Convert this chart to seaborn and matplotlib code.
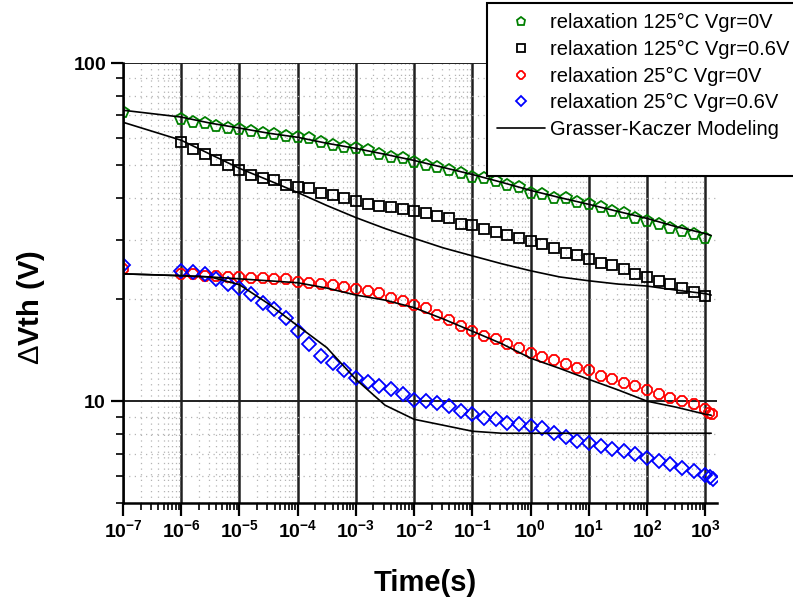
import numpy as np
import matplotlib
matplotlib.use('Agg')
import matplotlib.pyplot as plt
from matplotlib import ticker
from matplotlib.lines import Line2D
import seaborn as sns

sns.set_style('ticks', {'axes.edgecolor': 'black', 'xtick.color': 'black',
                        'ytick.color': 'black', 'text.color': 'black',
                        'axes.labelcolor': 'black'})
plt.rcParams['font.family'] = ['Liberation Sans', 'DejaVu Sans']
plt.rcParams['mathtext.fontset'] = 'custom'
plt.rcParams['mathtext.rm'] = 'Liberation Sans'
plt.rcParams['mathtext.bf'] = 'Liberation Sans:bold'

# measured relaxation data (time as log10 exponent, dVth in V)
time_exp = [-7, -6.0, -5.8, -5.6, -5.4, -5.2, -5.0, -4.8, -4.6, -4.4, -4.2, -4.0,
            -3.8, -3.6, -3.4, -3.2, -3.0, -2.8, -2.6, -2.4, -2.2, -2.0, -1.8, -1.6,
            -1.4, -1.2, -1.0, -0.8, -0.6, -0.4, -0.2, 0.0, 0.2, 0.4, 0.6, 0.8, 1.0,
            1.2, 1.4, 1.6, 1.8, 2.0, 2.2, 2.4, 2.6, 2.8, 3.0]

green_125_0v = [71.6, 68.2, 66.8, 66.4, 65.0, 64.2, 63.7, 62.9, 62.0, 61.6, 60.7, 60.3,
                59.9, 58.3, 57.1, 56.3, 55.9, 55.2, 53.7, 52.6, 52.3, 50.8, 49.8, 49.1,
                48.1, 47.2, 45.9, 45.6, 44.7, 43.7, 42.9, 41.4, 41.1, 40.0, 39.8, 38.7,
                38.2, 37.4, 36.6, 35.9, 34.9, 34.2, 33.5, 32.6, 31.9, 31.3, 30.3]

# starts at 1e-6
black_125_06v = [58.3, 55.6, 53.7, 51.5, 49.8, 48.1, 46.8, 45.6, 45.0, 43.7, 42.9,
                 42.6, 41.4, 40.6, 39.8, 39.2, 38.4, 37.9, 37.4, 37.1, 36.4, 35.9,
                 35.2, 34.7, 33.5, 33.1, 32.4, 31.7, 31.1, 30.4, 29.8, 29.2, 28.4,
                 27.5, 27.1, 26.4, 25.7, 25.2, 24.6, 23.8, 23.3, 22.7, 22.2, 21.6,
                 21.1, 20.5]

red_25_0v = [24.6, 23.8, 23.7, 23.5, 23.5, 23.3, 23.3, 23.2, 23.2, 23.0, 22.9, 22.5,
             22.4, 22.2, 22.1, 21.8, 21.5, 21.2, 20.9, 20.2, 19.8, 19.3, 18.9, 18.0,
             17.4, 16.7, 16.1, 15.6, 15.3, 14.8, 14.4, 13.9, 13.5, 13.2, 12.9, 12.5,
             12.4, 11.9, 11.6, 11.3, 11.1, 10.8, 10.5, 10.2, 10.0, 9.8, 9.47]
red_tail_exp = [3.07, 3.12]
red_tail = [9.2, 9.15]

blue_25_06v = [25.3, 24.3, 24.1, 23.7, 22.9, 22.2, 21.6, 20.8, 19.5, 18.7, 17.6, 16.1,
               14.8, 13.6, 13.0, 12.4, 11.7, 11.4, 11.1, 10.9, 10.5, 10.1, 10.0, 9.86,
               9.66, 9.34, 9.15, 8.90, 8.84, 8.61, 8.55, 8.43, 8.31, 8.05, 7.85, 7.61,
               7.51, 7.35, 7.20, 7.10, 6.96, 6.77, 6.64, 6.50, 6.33, 6.20, 6.07]
blue_tail_exp = [3.08, 3.13]
blue_tail = [5.95, 5.87]

# Grasser-Kaczer model curves
model_exp = [-7, -6, -5.5, -5, -4.5, -4, -3.5, -3, -2.5, -2, -1.5, -1, -0.5, 0,
             0.5, 1, 1.5, 2, 2.5, 3, 3.1]
model_green = [72.5, 69.2, 66.4, 64.2, 62.0, 60.3, 57.9, 55.9, 53.7, 51.5, 49.1,
               46.8, 44.4, 42.0, 40.0, 38.2, 36.4, 34.7, 32.8, 31.3, 30.9]
model_black = [66.8, 59.1, 53.7, 48.8, 45.0, 41.4, 37.9, 34.9, 32.4, 30.3, 28.4,
               26.9, 25.5, 24.3, 23.3, 22.7, 22.2, 21.9, 21.3, 20.8, 20.6]
model_red = [23.8, 23.5, 23.3, 23.0, 22.7, 22.4, 21.6, 20.6, 19.9, 18.9, 17.5,
             16.1, 14.8, 13.4, 12.5, 11.6, 10.8, 10.0, 9.6, 9.15, 9.09]
model_blue = [23.8, 23.5, 23.3, 22.1, 19.4, 16.7, 14.4, 11.6, 9.73, 8.84, 8.49,
              8.15, 8.04, 8.04, 8.04, 8.04, 8.04, 8.04, 8.04, 8.04, 8.04]

labels = ['relaxation 125°C Vgr=0V', 'relaxation 125°C Vgr=0.6V',
          'relaxation 25°C Vgr=0V', 'relaxation 25°C Vgr=0.6V',
          'Grasser-Kaczer Modeling']
x_tick_exp = list(range(-7, 4))
y_ticks = [10, 100]


def sec(exps):
  return [10.0 ** e for e in exps]


fig = plt.figure(figsize=(7.93, 6.03), dpi=100)
ax = fig.add_axes([123/793, 1-503/603, (717-123)/793, (503-63)/603])
ax.set_xscale('log')
ax.set_yscale('log')

series = [
  (sec(time_exp), green_125_0v, 'p', 8.5, 'green'),
  (sec(time_exp[1:]), black_125_06v, 's', 7.0, 'black'),
  (sec(time_exp + red_tail_exp), red_25_0v + red_tail, '8', 7.5, 'red'),
  (sec(time_exp + blue_tail_exp), blue_25_06v + blue_tail, 'D', 7.0, 'blue'),
]
handles = []
for t, v, mk, ms, col in series:
  sns.lineplot(x=t, y=v, ax=ax, estimator=None, sort=False, linestyle='none',
               marker=mk, markersize=ms, markerfacecolor='none',
               markeredgecolor=col, markeredgewidth=1.3, color=col)
  handles.append(ax.lines[-1])

for mv in [model_green, model_black, model_red, model_blue]:
  sns.lineplot(x=sec(model_exp), y=mv, ax=ax, estimator=None, sort=False,
               color='black', linewidth=1.2)
handles.append(ax.lines[-1])
if ax.get_legend() is not None:
  ax.get_legend().remove()

ax.set_xlim(1e-7, 10 ** 3.2)
ax.set_ylim(5, 100)

ax.xaxis.set_major_locator(ticker.FixedLocator(sec(x_tick_exp)))
ax.xaxis.set_major_formatter(ticker.FixedFormatter(
  [r'$\mathbf{10^{%d}}$' % e for e in x_tick_exp]))
ax.xaxis.set_minor_locator(ticker.LogLocator(base=10, subs=np.arange(2, 10), numticks=100))
ax.xaxis.set_minor_formatter(ticker.NullFormatter())
ax.yaxis.set_major_locator(ticker.FixedLocator(y_ticks))
ax.yaxis.set_major_formatter(ticker.FixedFormatter(
  [r'$\mathbf{%d}$' % v for v in y_ticks]))
ax.yaxis.set_minor_locator(ticker.LogLocator(base=10, subs=np.arange(2, 10), numticks=100))
ax.yaxis.set_minor_formatter(ticker.NullFormatter())

ax.tick_params(which='major', direction='out', length=9, width=1.6, labelsize=14, pad=3)
ax.tick_params(which='minor', direction='out', length=5, width=1.2)

ax.set_axisbelow(True)
ax.xaxis.grid(True, which='major', color='#202020', linewidth=1.8)
ax.yaxis.grid(True, which='major', color='#202020', linewidth=1.4)
ax.grid(True, which='minor', color='#b4b4b4', linewidth=0.9, linestyle=(0, (1, 3.5)))
for tk in ax.yaxis.get_major_ticks():
  if tk.get_loc() >= 100:
    tk.gridline.set_visible(False)

for s in ['top', 'right']:
  ax.spines[s].set_visible(False)
for s in ['left', 'bottom']:
  ax.spines[s].set_linewidth(1.8)

ax.set_xlabel('Time(s)', fontsize=21, fontweight='bold')
ax.xaxis.set_label_coords(0.508, -0.150)
ax.set_ylabel(r'$\Delta\mathbf{Vth\ (V)}$', fontsize=21)
ax.yaxis.set_label_coords(-0.128, 0.445)

handles.append(Line2D([], [], linestyle='none'))
leg = fig.legend(handles=handles, labels=labels + [' '], loc='upper left',
                 bbox_to_anchor=(487/793, 1-3/603), frameon=True, fancybox=False,
                 edgecolor='black', framealpha=1, fontsize=14.5, handlelength=2.4,
                 borderpad=0.5, labelspacing=0.38, handletextpad=0.25,
                 borderaxespad=0, markerscale=0.75)
leg.get_frame().set_linewidth(1.5)

plt.savefig('out.png', dpi=100)
